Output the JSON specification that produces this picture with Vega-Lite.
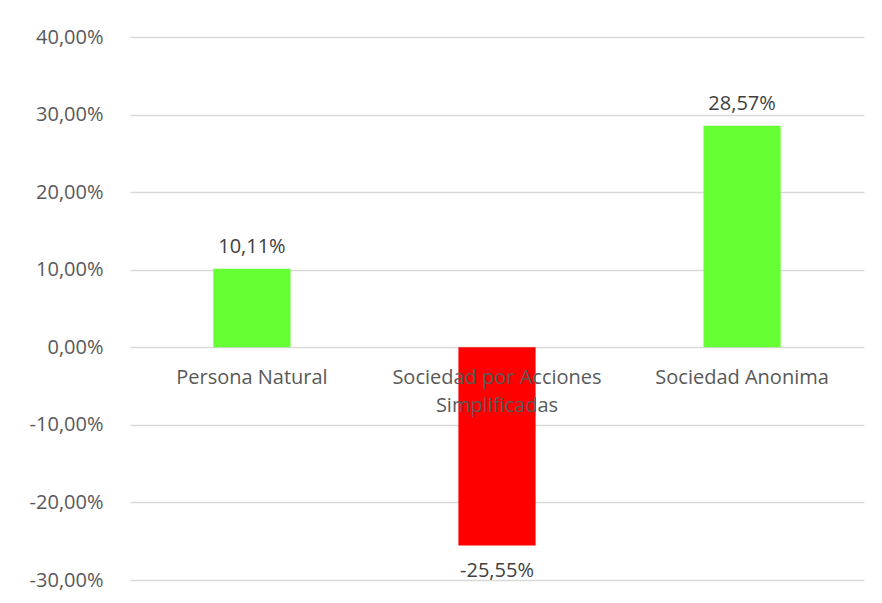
{
  "$schema": "https://vega.github.io/schema/vega-lite/v6.json",
  "autosize": {"type": "none"},
  "width": 734,
  "height": 543,
  "padding": {"left": 130, "top": 37, "right": 18, "bottom": 23},
  "background": "white",
  "config": {
    "locale": {"number": {"decimal": ",", "thousands": ".", "grouping": [3], "currency": ["", ""], "minus": "-"}},
    "view": {"stroke": null},
    "font": "Open Sans"
  },
  "data": {"values": [
    {"tipo": "Persona Natural", "variacion": 0.1011},
    {"tipo": "Sociedad por Acciones Simplificadas", "variacion": -0.2555},
    {"tipo": "Sociedad Anonima", "variacion": 0.2857}
  ]},
  "encoding": {
    "x": {"field": "tipo", "type": "nominal", "sort": null,
      "scale": {"paddingInner": 0.685, "paddingOuter": 0.34},
      "axis": {"title": null, "orient": "bottom", "offset": -233, "domain": false, "ticks": false,
        "labelAngle": 0, "labelFontSize": 20, "labelColor": "#595959", "labelPadding": 20,
        "labelLineHeight": 28, "zindex": 1, "labelFont": "Open Sans", "labelLimit": 0,
        "labelExpr": "datum.label == 'Sociedad por Acciones Simplificadas' ? ['Sociedad por Acciones', 'Simplificadas'] : datum.label"}},
    "y": {"field": "variacion", "type": "quantitative",
      "scale": {"domain": [-0.3, 0.4], "nice": false, "zero": true},
      "axis": {"title": null, "format": ".2%", "values": [-0.3, -0.2, -0.1, 0, 0.1, 0.2, 0.3, 0.4],
        "domain": false, "ticks": false, "labelFontSize": 20, "labelColor": "#595959", "labelPadding": 27,
        "gridColor": "#d9d9d9", "gridWidth": 1.5, "labelFont": "Open Sans"}}
  },
  "layer": [
    {"mark": {"type": "bar"},
      "encoding": {
        "color": {"condition": {"test": "datum.variacion < 0", "value": "#ff0000"}, "value": "#66ff33"}
      }},
    {"transform": [{"filter": "datum.variacion >= 0"}],
      "mark": {"type": "text", "baseline": "bottom", "dy": -12, "fontSize": 20, "color": "#404040"},
      "encoding": {"text": {"field": "variacion", "type": "quantitative", "format": ".2%"}}},
    {"transform": [{"filter": "datum.variacion < 0"}],
      "mark": {"type": "text", "baseline": "top", "dy": 16, "fontSize": 20, "color": "#404040"},
      "encoding": {"text": {"field": "variacion", "type": "quantitative", "format": ".2%"}}}
  ]
}
